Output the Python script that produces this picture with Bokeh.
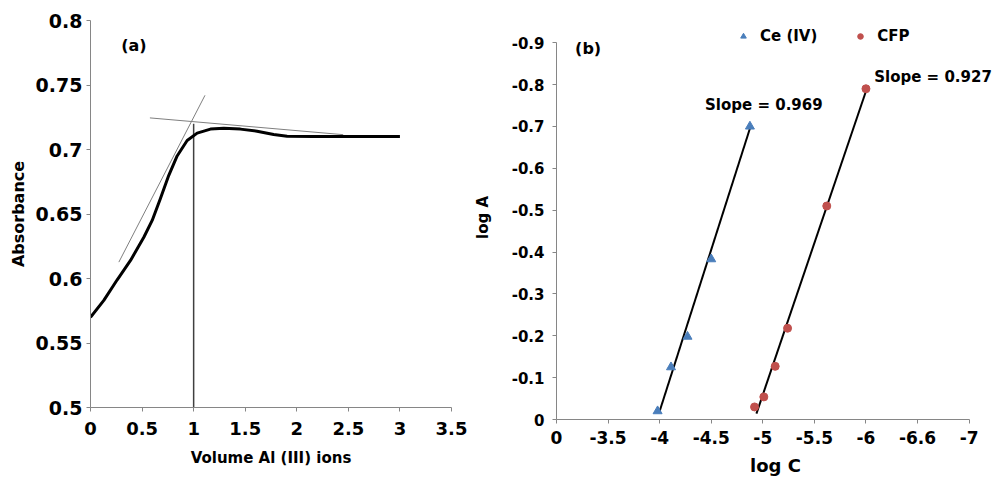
from bokeh.plotting import figure
from bokeh.layouts import row, column
from bokeh.models import Range1d, FixedTicker, Label, Legend, LegendItem
from bokeh.embed import file_html
from bokeh.resources import INLINE

# ---------------- data: panel (a) ----------------
vol = [0.0, 0.129, 0.259, 0.388, 0.517, 0.598, 0.678, 0.759, 0.840, 0.937,
       1.034, 1.163, 1.292, 1.453, 1.615, 1.776, 1.906, 2.16, 2.5, 3.0]
absorb = [0.570, 0.583, 0.599, 0.614, 0.632, 0.645, 0.662, 0.680, 0.695, 0.707,
          0.7127, 0.7158, 0.7165, 0.7158, 0.7142, 0.7116, 0.7103, 0.7100, 0.7100, 0.7100]
tan1_x = [0.275, 1.11]
tan1_y = [0.6127, 0.742]
tan2_x = [0.576, 2.45]
tan2_y = [0.7245, 0.7115]
eq_x = [1.0, 1.0]
eq_y = [0.5, 0.72]
a_xticks = [0, 0.5, 1, 1.5, 2, 2.5, 3, 3.5]
a_xlabels = ["0", "0.5", "1", "1.5", "2", "2.5", "3", "3.5"]
a_yticks = [0.5, 0.55, 0.6, 0.65, 0.7, 0.75, 0.8]
a_ylabels = ["0.5", "0.55", "0.6", "0.65", "0.7", "0.75", "0.8"]

# ---------------- data: panel (b) ----------------
ce_logc = [-3.98, -4.11, -4.27, -4.50, -4.875]
ce_loga = [-0.020, -0.125, -0.198, -0.383, -0.700]
cfp_logc = [-4.92, -5.01, -5.12, -5.24, -5.62, -6.00]
cfp_loga = [-0.030, -0.054, -0.127, -0.218, -0.510, -0.790]
ce_fit_x = [-3.995, -4.875]
ce_fit_y = [-0.016, -0.695]
cfp_fit_x = [-4.938, -6.004]
cfp_fit_y = [-0.014, -0.787]
b_xticks = [-3, -3.5, -4, -4.5, -5, -5.5, -6, -6.5, -7]
b_xlabels = ["0", "-3.5", "-4", "-4.5", "-5", "-5.5", "-6", "-6.6", "-7"]
b_yticks = [0, -0.1, -0.2, -0.3, -0.4, -0.5, -0.6, -0.7, -0.8, -0.9]
b_ylabels = ["0", "-0.1", "-0.2", "-0.3", "-0.4", "-0.5", "-0.6", "-0.7", "-0.8", "-0.9"]

FONT = "DejaVu Sans"
AXIS_COLOR = "#868686"


def style_axes(p):
    for ax in (p.xaxis[0], p.yaxis[0]):
        ax.axis_line_color = AXIS_COLOR
        ax.major_tick_line_color = AXIS_COLOR
        ax.minor_tick_line_color = None
        ax.major_tick_in = 0
        ax.major_tick_out = 4
        ax.major_label_text_font = FONT
        ax.major_label_text_font_style = "bold"
        ax.major_label_text_color = "black"
        ax.axis_label_text_font = FONT
        ax.axis_label_text_font_style = "bold"
        ax.axis_label_text_color = "black"
    p.xgrid.visible = False
    p.ygrid.visible = False
    p.outline_line_color = None
    p.background_fill_color = "white"
    p.border_fill_color = "white"


# ---------------- panel (a) ----------------
pa = figure(width=470, height=478, output_backend="svg", toolbar_location=None, title=None,
            x_range=Range1d(0, 3.5), y_range=Range1d(0.5, 0.8),
            min_border_left=90, min_border_right=19, min_border_top=20, min_border_bottom=71)
style_axes(pa)
pa.xaxis.ticker = FixedTicker(ticks=a_xticks)
pa.yaxis.ticker = FixedTicker(ticks=a_yticks)
pa.xaxis.major_label_overrides = {float(t): l for t, l in zip(a_xticks, a_xlabels)}
pa.yaxis.major_label_overrides = {float(t): l for t, l in zip(a_yticks, a_ylabels)}
pa.xaxis.major_label_text_font_size = "18px"
pa.yaxis.major_label_text_font_size = "19px"
pa.xaxis.axis_label = "Volume Al (III) ions"
pa.yaxis.axis_label = "Absorbance"
pa.xaxis.axis_label_text_font_size = "15px"
pa.yaxis.axis_label_text_font_size = "16px"
pa.xaxis.major_label_standoff = 10
pa.yaxis.major_label_standoff = 4
pa.xaxis.axis_label_standoff = 11
pa.yaxis.axis_label_standoff = 5

pa.line(eq_x, eq_y, line_color="#404040", line_width=1.5)
pa.line(tan1_x, tan1_y, line_color="#7f7f7f", line_width=1)
pa.line(tan2_x, tan2_y, line_color="#7f7f7f", line_width=1)
pa.line(vol, absorb, line_color="black", line_width=3, line_join="round")
pa.add_layout(Label(x=0.297, y=0.7806, text="(a)", text_font=FONT, text_font_style="bold",
                    text_font_size="16px", text_baseline="middle", text_color="black"))

# ---------------- panel (b) ----------------
# frame extended above -0.9 and right of -7 so that legend/labels are not clipped;
# axis bounds keep the drawn axes to the reference extent
pb = figure(width=524, height=478, output_backend="svg", toolbar_location=None, title=None,
            x_range=Range1d(-3, -7.246), y_range=Range1d(0, -0.965),
            min_border_left=86, min_border_right=0, min_border_top=15, min_border_bottom=58)
style_axes(pb)
pb.xaxis.bounds = (-7, -3)
pb.yaxis.bounds = (-0.9, 0)
pb.xaxis.ticker = FixedTicker(ticks=b_xticks)
pb.yaxis.ticker = FixedTicker(ticks=b_yticks)
pb.xaxis.major_label_overrides = {float(t): l for t, l in zip(b_xticks, b_xlabels)}
pb.yaxis.major_label_overrides = {float(t): l for t, l in zip(b_yticks, b_ylabels)}
pb.xaxis.major_label_text_font_size = "17px"
pb.yaxis.major_label_text_font_size = "15px"
pb.xaxis.axis_label = "log C"
pb.yaxis.axis_label = "log A"
pb.xaxis.axis_label_text_font_size = "18px"
pb.yaxis.axis_label_text_font_size = "15px"
pb.xaxis.major_label_standoff = 7
pb.yaxis.major_label_standoff = 8
pb.xaxis.axis_label_standoff = 8
pb.yaxis.axis_label_standoff = 17

pb.line(ce_fit_x, ce_fit_y, line_color="black", line_width=2)
pb.line(cfp_fit_x, cfp_fit_y, line_color="black", line_width=2)
ce_r = pb.scatter(ce_logc, ce_loga, marker="triangle", size=9,
                  fill_color="#4a7ebb", line_color="#4a7ebb")
cfp_r = pb.scatter(cfp_logc, cfp_loga, marker="circle", size=8,
                   fill_color="#c0504d", line_color="#c0504d")

legend = Legend(items=[LegendItem(label="Ce (IV)", renderers=[ce_r]),
                       LegendItem(label="CFP", renderers=[cfp_r])],
                orientation="horizontal", location=(180, 374),
                border_line_color=None, background_fill_alpha=0,
                padding=2, margin=0, spacing=36, glyph_width=14, glyph_height=14,
                label_standoff=10, label_text_font=FONT, label_text_font_style="bold",
                label_text_font_size="15px", label_text_color="black")
pb.add_layout(legend, "center")

for txt, x, y in [("(b)", -3.18, -0.886), ("Slope = 0.969", -4.44, -0.752),
                  ("Slope = 0.927", -6.08, -0.819)]:
    pb.add_layout(Label(x=x, y=y, text=txt, text_font=FONT, text_font_style="bold",
                        text_font_size="15px" if txt != "(b)" else "16px",
                        text_baseline="middle", text_color="black"))

layout = row(column(pa), column(pb))
open("out.html", "w").write(file_html(layout, INLINE))
